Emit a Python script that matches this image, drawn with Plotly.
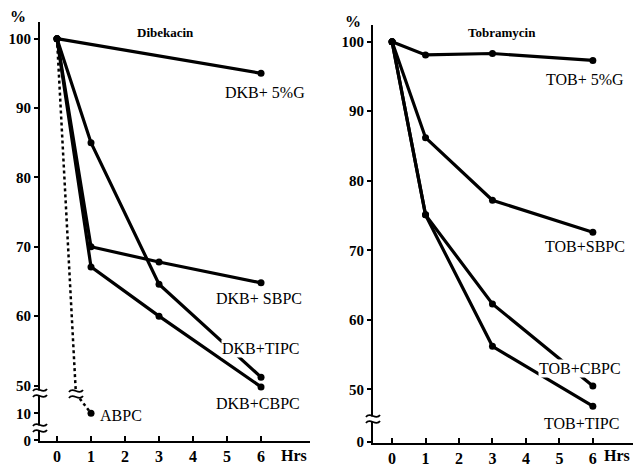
import plotly.graph_objects as go

# ---------------- data ----------------
HOURS = [0, 1, 3, 6]

# Dibekacin panel (% remaining)
DKB_5G_HRS = [0, 6]
DKB_5G = [100, 95.0]
DKB_SBPC = [100, 70.0, 67.8, 64.8]
DKB_TIPC = [100, 85.0, 64.6, 51.2]
DKB_CBPC = [100, 67.1, 60.0, 49.8]
ABPC_HRS = [0, 1]
ABPC = [100, 10]

# Tobramycin panel (% remaining)
TOB_5G = [100, 98.1, 98.3, 97.3]
TOB_SBPC = [100, 86.2, 77.2, 72.6]
TOB_CBPC = [100, 75.1, 62.3, 50.5]
TOB_TIPC = [100, 75.1, 56.2, 47.6]

Y_TICKS = [100, 90, 80, 70, 60, 50]
X_TICKS = [0, 1, 2, 3, 4, 5, 6]

# page body has an 8px margin; the figure fills the rest of the 641x466 window
OFF = 8
W, H = 641 - OFF, 466 - OFF
FONT = "Liberation Serif"


# broken axis: values below the break are compressed into a small band
def left_y(v):
    return v if v > 20 else 42.1 + v * 0.39


def right_y(v):
    return v if v > 20 else 42.5 + v * 0.39


def px(x):
    return (x - OFF) / W


def py(y):
    return 1 - (y - OFF) / H


def b(t):
    return f"<b>{t}</b>"


fig = go.Figure()

line = dict(color="black", width=3.2)
mark = dict(color="black", size=7)

# left panel
for hrs, vals in [(DKB_5G_HRS, DKB_5G), (HOURS, DKB_SBPC), (HOURS, DKB_TIPC), (HOURS, DKB_CBPC)]:
    fig.add_trace(go.Scatter(x=hrs, y=[left_y(v) for v in vals], mode="lines+markers",
                             line=line, marker=mark, xaxis="x", yaxis="y", showlegend=False))

# ABPC dashed, running through a break mark
ABPC_BREAK_X = 0.55
ABPC_BREAK_Y = 49.3
fig.add_trace(go.Scatter(x=[ABPC_HRS[0], ABPC_BREAK_X], y=[left_y(ABPC[0]), ABPC_BREAK_Y],
                         mode="lines", line=dict(color="black", width=2.5, dash="3px,3px"),
                         xaxis="x", yaxis="y", showlegend=False))
fig.add_trace(go.Scatter(x=[ABPC_BREAK_X + 0.12, ABPC_HRS[1]], y=[ABPC_BREAK_Y - 1.2, left_y(ABPC[1])],
                         mode="lines", line=dict(color="black", width=2.5, dash="3px,3px"),
                         xaxis="x", yaxis="y", showlegend=False))
fig.add_trace(go.Scatter(x=[ABPC_HRS[1]], y=[left_y(ABPC[1])], mode="markers", marker=mark,
                         xaxis="x", yaxis="y", showlegend=False))

# right panel
for vals in [TOB_5G, TOB_SBPC, TOB_CBPC, TOB_TIPC]:
    fig.add_trace(go.Scatter(x=HOURS, y=[right_y(v) for v in vals], mode="lines+markers",
                             line=line, marker=mark, xaxis="x2", yaxis="y2", showlegend=False))

ax_common = dict(showgrid=False, zeroline=False, showline=True, linecolor="black", linewidth=2,
                 tickcolor="black", tickwidth=2)
xfont = dict(family=FONT, size=16, color="black")
yfont = dict(family=FONT, size=15, color="black")

fig.update_layout(
    width=W, height=H, margin=dict(l=0, r=0, t=0, b=0, autoexpand=False),
    paper_bgcolor="white", plot_bgcolor="white",
    xaxis=dict(domain=[px(40), px(310)], range=[-0.5, 7.44], tickvals=X_TICKS,
               ticktext=[b(v) for v in X_TICKS], ticks="inside", ticklen=5, tickfont=xfont,
               anchor="y", **ax_common),
    yaxis=dict(domain=[py(441), py(22)], range=[42.0, 102.4],
               tickvals=[left_y(v) for v in Y_TICKS] + [left_y(10), left_y(0)],
               ticktext=[b(v) for v in Y_TICKS] + [b(10), b(0)], ticks="outside", ticklen=4,
               tickfont=yfont, anchor="x", **ax_common),
    xaxis2=dict(domain=[px(373), px(633)], range=[-0.57, 7.2], tickvals=X_TICKS,
                ticktext=[b(v) for v in X_TICKS], ticks="inside", ticklen=5, tickfont=xfont,
                anchor="y2", **ax_common),
    yaxis2=dict(domain=[py(443), py(25)], range=[42.3, 102.4],
                tickvals=[right_y(v) for v in Y_TICKS] + [right_y(0)],
                ticktext=[b(v) for v in Y_TICKS] + [b(0)], ticks="outside", ticklen=4,
                tickfont=yfont, anchor="x2", **ax_common),
)

lab = dict(family=FONT, size=16, color="black")
annots = [
    ("x", "y", 6.12, 92.3, "DKB+ 5%G"),
    ("x", "y", 5.94, 62.5, "DKB+ SBPC"),
    ("x", "y", 5.97, 55.4, "DKB+TIPC"),
    ("x", "y", 5.91, 47.4, "DKB+CBPC"),
    ("x", "y", 1.88, 45.7, "ABPC"),
    ("x2", "y2", 5.78, 94.6, "TOB+ 5%G"),
    ("x2", "y2", 5.78, 70.5, "TOB+SBPC"),
    ("x2", "y2", 5.63, 53.0, "TOB+CBPC"),
    ("x2", "y2", 5.66, 45.1, "TOB+TIPC"),
]
for xr, yr, x, y, t in annots:
    fig.add_annotation(x=x, y=y, xref=xr, yref=yr, text=t, showarrow=False, font=lab,
                       bgcolor="white", borderpad=0, xanchor="center", yanchor="middle")

titlefont = dict(family=FONT, size=13, color="black")
fig.add_annotation(x=3.18, y=100.9, xref="x", yref="y", text=b("Dibekacin"), showarrow=False,
                   font=titlefont, xanchor="center", yanchor="middle")
fig.add_annotation(x=3.29, y=101.3, xref="x2", yref="y2", text=b("Tobramycin"), showarrow=False,
                   font=titlefont, xanchor="center", yanchor="middle")

for (x, y, t) in [(18, 17, "%"), (353, 21, "%"), (294, 455, "Hrs"), (617, 455, "Hrs")]:
    fig.add_annotation(x=px(x), y=py(y), xref="paper", yref="paper", text=b(t), showarrow=False,
                       font=dict(family=FONT, size=16, color="black"),
                       xanchor="center", yanchor="middle")


# break marks (decoration)
def squiggle(cx, cy):
    shapes = [dict(type="rect", xref="paper", yref="paper", x0=px(cx - 3), x1=px(cx + 3),
                   y0=py(cy + 2.5), y1=py(cy - 2.5), fillcolor="white", line=dict(width=0),
                   layer="above")]
    for d in (-3, 3):
        path = (f"M {px(cx - 7)},{py(cy + d + 1)} "
                f"C {px(cx - 3)},{py(cy + d - 5)} {px(cx + 3)},{py(cy + d + 5)} {px(cx + 7)},{py(cy + d - 1)}")
        shapes.append(dict(type="path", xref="paper", yref="paper", path=path,
                           line=dict(color="black", width=1.8), layer="above"))
    return shapes


shapes = []
for c in [(40, 393), (40, 428), (76, 394), (373, 419)]:
    shapes += squiggle(*c)
fig.update_layout(shapes=shapes)

fig.write_html("out.html")
